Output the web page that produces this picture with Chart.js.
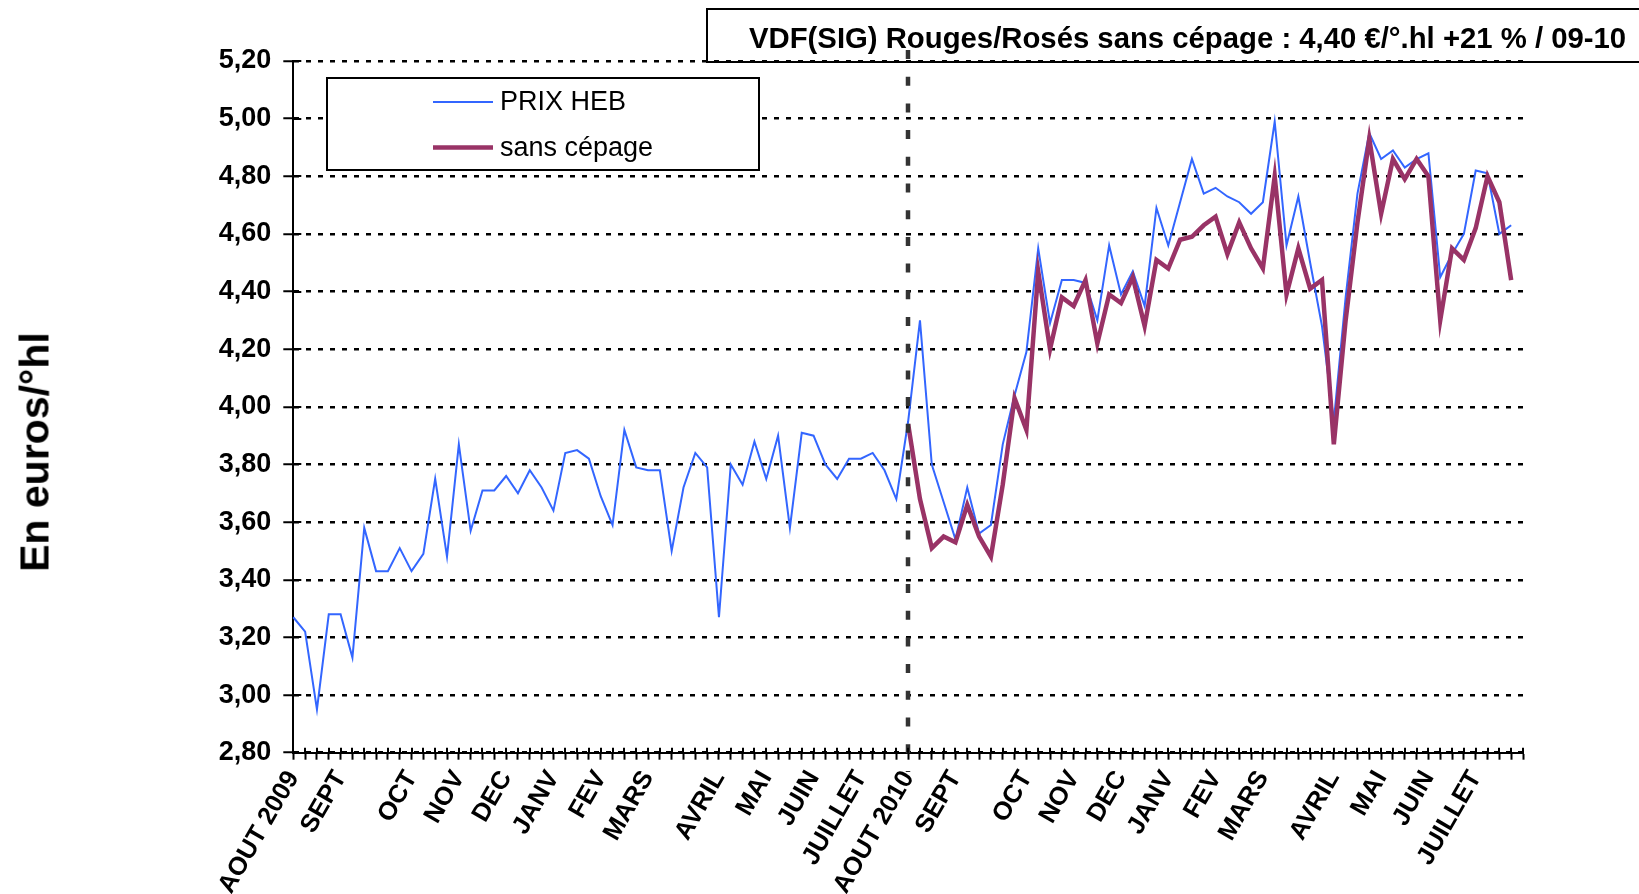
<!DOCTYPE html>
<html>
<head>
<meta charset="utf-8">
<title>VDF(SIG) Rouges/Rosés sans cépage</title>
<script src="https://cdn.jsdelivr.net/npm/chart.js@4.4.1/dist/chart.umd.min.js"></script>
<style>
  html, body { margin: 0; padding: 0; background: #fff; }
  #wrap { position: relative; width: 1639px; height: 894px; overflow: hidden; font-family: "Liberation Sans", Arial, sans-serif; }
  #prixChart { position: absolute; left: 0; top: 0; }
  #titleBox {
    position: absolute; left: 706px; top: 8px; width: 1000px; height: 51px;
    border: 2px solid #000; background: transparent;
    font-weight: bold; font-size: 29.3px; line-height: 55px; padding-left: 41px;
    white-space: nowrap; color: #000;
  }
  #yTitle {
    position: absolute; left: 35px; top: 452px;
    transform: translate(-50%, -50%) rotate(-90deg);
    font-weight: bold; font-size: 41px; white-space: nowrap; color: #000;
  }
</style>
</head>
<body>
<div id="wrap">
  <canvas id="prixChart" width="1639" height="894"></canvas>
  <div id="titleBox">VDF(SIG) Rouges/Rosés sans cépage : 4,40 €/°.hl +21 % / 09-10</div>
  <div id="yTitle">En euros/°hl</div>
</div>
<script>
// weekly prices, aout 2009 -> juillet 2011 (105 weeks on the axis)
const weekCount = 105;

const monthNames = ['AOUT 2009', 'SEPT', 'OCT', 'NOV', 'DEC', 'JANV', 'FEV', 'MARS', 'AVRIL', 'MAI', 'JUIN', 'JUILLET',
                    'AOUT 2010', 'SEPT', 'OCT', 'NOV', 'DEC', 'JANV', 'FEV', 'MARS', 'AVRIL', 'MAI', 'JUIN', 'JUILLET'];
const monthWeeks = [0, 4, 10, 14, 18, 22, 26, 30, 36, 40, 44, 48,
                    52, 56, 62, 66, 70, 74, 78, 82, 88, 92, 96, 100];

// PRIX HEB, from week 0
const prixHeb = [
  3.27, 3.22, 2.95, 3.28, 3.28, 3.13, 3.58, 3.43, 3.43, 3.51,
  3.43, 3.49, 3.75, 3.48, 3.87, 3.57, 3.71, 3.71, 3.76, 3.70,
  3.78, 3.72, 3.64, 3.84, 3.85, 3.82, 3.69, 3.59, 3.92, 3.79,
  3.78, 3.78, 3.50, 3.72, 3.84, 3.79, 3.27, 3.80, 3.73, 3.88,
  3.75, 3.90, 3.58, 3.91, 3.90, 3.80, 3.75, 3.82, 3.82, 3.84,
  3.78, 3.68, 3.95, 4.30, 3.80, 3.67, 3.54, 3.72, 3.56, 3.59,
  3.87, 4.04, 4.19, 4.55, 4.29, 4.44, 4.44, 4.43, 4.30, 4.56,
  4.39, 4.47, 4.35, 4.69, 4.56, 4.71, 4.86, 4.74, 4.76, 4.73,
  4.71, 4.67, 4.71, 4.99, 4.56, 4.73, 4.50, 4.28, 3.95, 4.38,
  4.74, 4.95, 4.86, 4.89, 4.83, 4.86, 4.88, 4.45, 4.53, 4.60,
  4.82, 4.81, 4.60, 4.63
];

// sans cépage, starts at week 52 (aout 2010)
const sansCepageStart = 52;
const sansCepage = [
  3.94, 3.68, 3.51, 3.55, 3.53, 3.66, 3.55, 3.48, 3.73, 4.03,
  3.92, 4.47, 4.20, 4.38, 4.35, 4.44, 4.22, 4.39, 4.36, 4.45,
  4.28, 4.51, 4.48, 4.58, 4.59, 4.63, 4.66, 4.53, 4.64, 4.55,
  4.48, 4.80, 4.39, 4.55, 4.41, 4.44, 3.87, 4.30, 4.64, 4.93,
  4.67, 4.86, 4.79, 4.86, 4.80, 4.30, 4.55, 4.51, 4.62, 4.80,
  4.71, 4.44
];

const yMin = 2.8;
const yMax = 5.2;
const yStep = 0.2;

const FONT = '"Liberation Sans", Arial, sans-serif';

// category labels: only the first week of each month is named
const labels = Array(weekCount).fill('');
monthWeeks.forEach((w, i) => { labels[w] = monthNames[i]; });

const prixData = prixHeb.concat(Array(weekCount - prixHeb.length).fill(null));
const sansData = Array(sansCepageStart).fill(null)
  .concat(sansCepage)
  .concat(Array(weekCount - sansCepageStart - sansCepage.length).fill(null));

// ticks crossing the axes (Chart.js only draws the outer half)
const innerTicks = {
  id: 'innerTicks',
  afterDraw(chart) {
    const { ctx, chartArea, scales: { x, y } } = chart;
    ctx.save();
    ctx.strokeStyle = '#000';
    ctx.lineWidth = 2;
    ctx.beginPath();
    x.ticks.forEach((t, i) => {
      const px = Math.round(x.getPixelForTick(i));
      ctx.moveTo(px, chartArea.bottom - 5);
      ctx.lineTo(px, chartArea.bottom);
    });
    y.ticks.forEach((t, i) => {
      const py = Math.round(y.getPixelForTick(i));
      ctx.moveTo(chartArea.left, py);
      ctx.lineTo(chartArea.left + 8, py);
    });
    ctx.stroke();
    ctx.restore();
  }
};

// dashed separator at the start of the 2010-11 campaign
const campaignLine = {
  id: 'campaignLine',
  afterDatasetsDraw(chart, args, opts) {
    const { ctx, scales: { x } } = chart;
    const px = Math.round(x.getPixelForValue(opts.week));
    ctx.save();
    ctx.strokeStyle = opts.color;
    ctx.lineWidth = opts.width;
    ctx.setLineDash(opts.dash);
    ctx.beginPath();
    ctx.moveTo(px, opts.top);
    ctx.lineTo(px, opts.bottom);
    ctx.stroke();
    ctx.restore();
  }
};

// framed legend inside the plot, like the excel one
const boxLegend = {
  id: 'boxLegend',
  afterDatasetsDraw(chart, args, opts) {
    const ctx = chart.ctx;
    ctx.save();
    ctx.fillStyle = '#fff';
    ctx.fillRect(opts.left, opts.top, opts.width, opts.height);
    ctx.strokeStyle = '#000';
    ctx.lineWidth = 2;
    ctx.strokeRect(opts.left, opts.top, opts.width, opts.height);
    ctx.font = opts.font;
    ctx.textBaseline = 'middle';
    ctx.fillStyle = '#000';
    chart.data.datasets.forEach((ds, i) => {
      const yy = opts.top + opts.firstRow + i * opts.rowGap;
      ctx.strokeStyle = ds.borderColor;
      ctx.lineWidth = ds.borderWidth;
      ctx.beginPath();
      ctx.moveTo(opts.left + opts.lineStart, yy);
      ctx.lineTo(opts.left + opts.lineStart + opts.lineLength, yy);
      ctx.stroke();
      ctx.fillText(ds.label, opts.left + opts.textStart, yy + 1);
    });
    ctx.restore();
  }
};

const ctx = document.getElementById('prixChart').getContext('2d');
const prixChart = new Chart(ctx, {
  type: 'line',
  data: {
    labels: labels,
    datasets: [
      {
        label: 'PRIX HEB',
        data: prixData,
        borderColor: '#3366FF',
        borderWidth: 2,
        pointRadius: 0,
        tension: 0,
        order: 1
      },
      {
        label: 'sans cépage',
        data: sansData,
        borderColor: '#993366',
        borderWidth: 4.5,
        pointRadius: 0,
        tension: 0,
        order: 0
      }
    ]
  },
  options: {
    responsive: false,
    animation: false,
    layout: { padding: { top: 61, right: 116, left: 0, bottom: 0 } },
    plugins: {
      legend: { display: false },
      tooltip: { enabled: false },
      campaignLine: { week: 52, color: '#333', width: 4.5, dash: [9, 17.7], top: 50, bottom: 772 },
      boxLegend: {
        left: 327, top: 78, width: 432, height: 92,
        firstRow: 24, rowGap: 45.5, lineStart: 106, lineLength: 60, textStart: 173,
        font: '27px ' + FONT
      }
    },
    scales: {
      x: {
        type: 'category',
        offset: false,
        afterFit(scale) { scale.height = 141.3; },
        grid: { drawOnChartArea: false, drawTicks: true, tickLength: 7, tickColor: '#000', tickWidth: 2 },
        border: { display: true, color: '#000', width: 2 },
        ticks: {
          autoSkip: false,
          maxRotation: 60,
          minRotation: 60,
          padding: 6,
          labelOffset: 0,
          color: '#000',
          font: { family: FONT, size: 25.5, weight: 'bold' }
        }
      },
      y: {
        min: yMin,
        max: yMax,
        afterFit(scale) { scale.width = 293.3; },
        grid: { color: '#000', lineWidth: 2.5, drawTicks: true, tickLength: 10, tickColor: '#000', tickWidth: 2 },
        border: { display: true, color: '#000', width: 2, dash: [5, 7] },
        ticks: {
          stepSize: yStep,
          padding: 12,
          color: '#000',
          font: { family: FONT, size: 27, weight: 'bold' },
          callback: (v) => v.toFixed(2).replace('.', ',')
        }
      }
    }
  },
  plugins: [innerTicks, campaignLine, boxLegend]
});
</script>
</body>
</html>
